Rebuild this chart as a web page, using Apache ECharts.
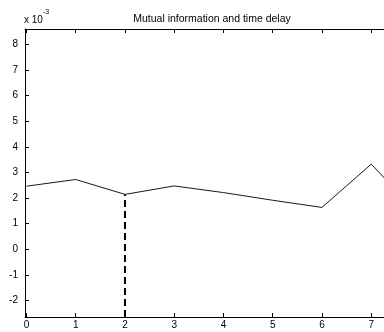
<!DOCTYPE html>
<html>
<head>
<meta charset="utf-8">
<script src="https://cdn.jsdelivr.net/npm/echarts@6/dist/echarts.min.js"></script>
<style>
  html, body { margin: 0; padding: 0; background: #fff; }
  #chart { width: 384px; height: 332px; }
</style>
</head>
<body>
<div id="chart"></div>
<script>
// Mutual information (in units of 1e-3 shown on the axis) versus time delay
const delays = [0, 1, 2, 3, 4, 5, 6, 7, 8];
const mutualInfo = [0.00246, 0.00272, 0.00214, 0.00247, 0.00221, 0.00191, 0.00163, 0.00332, 0.00130];
const chosenDelay = 2;
const xTicks = [0, 1, 2, 3, 4, 5, 6, 7];
const yTicks = [-0.002, -0.001, 0, 0.001, 0.002, 0.003, 0.004, 0.005, 0.006, 0.007, 0.008];

const X_MIN = -0.03, X_MAX = 7.26;
const Y_MIN = -0.00265, Y_MAX = 0.0086;
const FONT = 'Liberation Sans, Arial, Helvetica, sans-serif';

const chosenValue = mutualInfo[delays.indexOf(chosenDelay)];

const chart = echarts.init(document.getElementById('chart'), null, { renderer: 'canvas' });

const axisLine = { show: true, onZero: false, lineStyle: { color: '#000', width: 1 } };

chart.setOption({
  animation: false,
  backgroundColor: '#fff',
  title: {
    text: 'Mutual information and time delay',
    left: 207, top: 9, textAlign: 'center',
    textStyle: { fontFamily: FONT, fontSize: 10.5, fontWeight: 'normal', color: '#000' }
  },
  graphic: [
    { type: 'text', left: 24, top: 15,
      style: { text: 'x 10', font: '10px ' + FONT, fill: '#000' } },
    { type: 'text', left: 43, top: 9,
      style: { text: '-3', font: '7px ' + FONT, fill: '#000' } }
  ],
  grid: { left: 25, right: 0, top: 29, bottom: 15 },
  xAxis: [
    {
      type: 'value', min: X_MIN, max: X_MAX, position: 'bottom',
      axisLine: axisLine,
      axisTick: { show: true, inside: true, length: 4, customValues: xTicks,
                  lineStyle: { color: '#000' } },
      axisLabel: { show: true, customValues: xTicks, margin: 3, color: '#000',
                   fontFamily: FONT, fontSize: 10, formatter: v => String(Math.round(v)) },
      splitLine: { show: false }
    },
    {
      type: 'value', min: X_MIN, max: X_MAX, position: 'top',
      axisLine: axisLine,
      axisTick: { show: true, inside: true, length: 4, customValues: xTicks,
                  lineStyle: { color: '#000' } },
      axisLabel: { show: false },
      splitLine: { show: false }
    }
  ],
  yAxis: {
    type: 'value', min: Y_MIN, max: Y_MAX,
    axisLine: axisLine,
    axisTick: { show: true, inside: true, length: 4, customValues: yTicks,
                lineStyle: { color: '#000' } },
    axisLabel: { show: true, customValues: yTicks, margin: 7, color: '#000',
                 fontFamily: FONT, fontSize: 10,
                 formatter: v => String(Math.round(v * 1000)) },
    splitLine: { show: false }
  },
  series: [
    {
      type: 'line',
      data: delays.map((d, i) => [d, mutualInfo[i]]),
      symbol: 'none',
      clip: true,
      lineStyle: { color: '#1a1a1a', width: 1 }
    },
    {
      type: 'line',
      data: [[chosenDelay, Y_MIN], [chosenDelay, chosenValue]],
      symbol: 'none',
      clip: true,
      lineStyle: { color: '#000', width: 2, type: [7, 4] }
    }
  ]
});
</script>
</body>
</html>
